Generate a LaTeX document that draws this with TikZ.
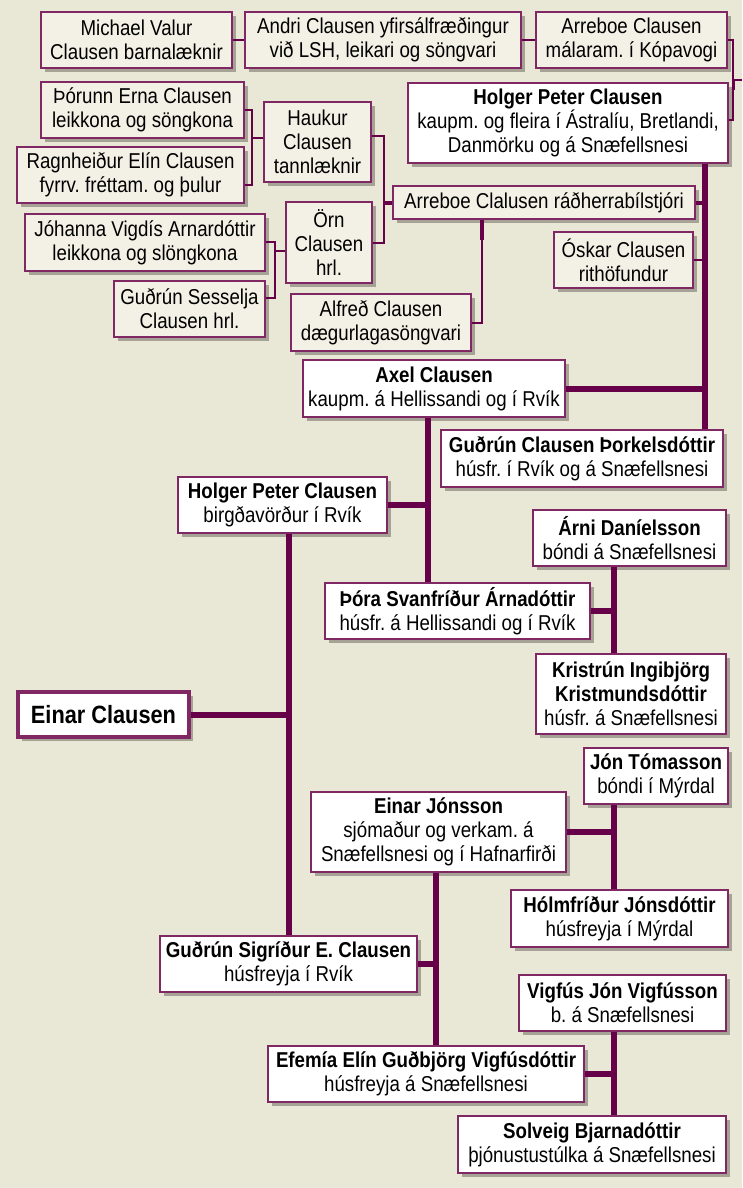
\documentclass[tikz,border=0pt]{standalone}
\usepackage{fontspec}
\setmainfont[FakeStretch=0.87]{Liberation Sans}
\frenchspacing
\usetikzlibrary{shadows}
\definecolor{bgc}{RGB}{233,231,214}
\definecolor{lfill}{RGB}{243,241,230}
\definecolor{bord}{RGB}{128,40,100}
\definecolor{conn}{RGB}{102,0,72}
\definecolor{shd}{RGB}{150,147,135}
\tikzset{
 person/.style={draw=bord, line width=1.6pt, align=center, inner sep=0pt,
   font=\fontsize{21.5}{24}\selectfont,
   drop shadow={shadow xshift=4pt, shadow yshift=-4pt, fill=shd, opacity=0.8}},
 lbox/.style={person, fill=lfill},
 wbox/.style={person, fill=white},
 sz/.style 2 args={minimum width=#1pt, minimum height=#2pt},
 thinc/.style={draw=conn, line width=2pt},
 midc/.style={draw=conn, line width=4pt},
 thickc/.style={draw=conn, line width=6pt},
}
\begin{document}
\begin{tikzpicture}[x=1pt,y=-1pt]
\fill[bgc] (0,0) rectangle (742,1188);
\useasboundingbox (0,0) rectangle (742,1188);

\node[lbox, sz={191}{56}] (michael) at (136.5,40) {Michael Valur\\Clausen barnalæknir};
\node[lbox, sz={276}{56}] (andri) at (383,40) {Andri Clausen yfirsálfræðingur\\við LSH, leikari og söngvari};
\node[lbox, sz={191}{56}] (arrm) at (631.5,40) {Arreboe Clausen\\málaram. í Kópavogi};
\node[wbox, sz={320}{80}] (holgerT) at (568,123) {\textbf{Holger Peter Clausen}\\kaupm. og fleira í Ástralíu, Bretlandi,\\Danmörku og á Snæfellsnesi};
\node[lbox, sz={203}{56}] (thorunn) at (142.5,110) {Þórunn Erna Clausen\\leikkona og söngkona};
\node[lbox, sz={227}{56}] (ragn) at (130.5,175) {Ragnheiður Elín Clausen\\fyrrv. fréttam. og þulur};
\node[lbox, sz={107}{80}] (haukur) at (317.5,142) {Haukur\\Clausen\\tannlæknir};
\node[lbox, sz={302}{33}] (arrr) at (544,202.5) {Arreboe Clalusen ráðherrabílstjóri};
\node[lbox, sz={86}{81}] (orn) at (329,242.5) {Örn\\Clausen\\hrl.};
\node[lbox, sz={240}{57}] (johanna) at (145,242.5) {Jóhanna Vigdís Arnardóttir\\leikkona og slöngkona};
\node[lbox, sz={151}{56}] (gsess) at (189.5,309) {Guðrún Sesselja\\Clausen hrl.};
\node[lbox, sz={139}{56}] (oskar) at (623.5,260) {Óskar Clausen\\rithöfundur};
\node[lbox, sz={180}{57}] (alfred) at (381,322.5) {Alfreð Clausen\\dægurlagasöngvari};
\node[wbox, sz={262}{57}] (axel) at (434,388.5) {\textbf{Axel Clausen}\\kaupm. á Hellissandi og í Rvík};
\node[wbox, sz={282}{57}] (gclaus) at (582,458.5) {\textbf{Guðrún Clausen Þorkelsdóttir}\\húsfr. í Rvík og á Snæfellsnesi};
\node[wbox, sz={209}{56}] (holgerB) at (282.5,505) {\textbf{Holger Peter Clausen}\\birgðavörður í Rvík};
\node[wbox, sz={193}{56}] (arni) at (629.5,538) {\textbf{Árni Daníelsson}\\bóndi á Snæfellsnesi};
\node[wbox, sz={265}{56}] (thora) at (457.5,611) {\textbf{Þóra Svanfríður Árnadóttir}\\húsfr. á Hellissandi og í Rvík};
\node[wbox, sz={190}{80}] (kristrun) at (631,694) {\textbf{Kristrún Ingibjörg}\\\textbf{Kristmundsdóttir}\\húsfr. á Snæfellsnesi};
\node[wbox, sz={171}{45}, line width=4pt, font=\fontsize{25}{28}\selectfont\bfseries] (einar) at (103.5,714.5) {Einar Clausen};
\node[wbox, sz={144}{56}] (jon) at (656,776) {\textbf{Jón Tómasson}\\bóndi í Mýrdal};
\node[wbox, sz={255}{80}] (einarJ) at (438.5,832) {\textbf{Einar Jónsson}\\sjómaður og verkam. á\\Snæfellsnesi og í Hafnarfirði};
\node[wbox, sz={217}{57}] (holm) at (619.5,918.5) {\textbf{Hólmfríður Jónsdóttir}\\húsfreyja í Mýrdal};
\node[wbox, sz={257}{56}] (gsig) at (288.5,964) {\textbf{Guðrún Sigríður E. Clausen}\\húsfreyja í Rvík};
\node[wbox, sz={207}{56}] (vigfus) at (622.5,1003) {\textbf{Vigfús Jón Vigfússon}\\b. á Snæfellsnesi};
\node[wbox, sz={316}{56}] (efemia) at (426,1074) {\textbf{Efemía Elín Guðbjörg Vigfúsdóttir}\\húsfreyja á Snæfellsnesi};
\node[wbox, sz={268}{57}] (solveig) at (592,1144.5) {\textbf{Solveig Bjarnadóttir}\\þjónustustúlka á Snæfellsnesi};

% top row
\coordinate (tb1) at (733,40);
\coordinate (tb2) at (733,120);
\coordinate (tbj) at (733,80);
\coordinate (tbout) at (742,80);
\draw[thinc] (michael.east) -- (andri.west);
\draw[thinc] (andri.east) -- (arrm.west);
\draw[thinc] (arrm.east) -- (tb1) -- (tb2) -- (holgerT.east |- tb2);
\draw[thinc] (tbj) -- (tbout);
\draw[draw=conn, line width=3pt] (tbj) -- ++(0,10);

% left cluster
\coordinate (lb2) at (252,185);
\coordinate (hk) at (252,138);
\draw[thinc] (thorunn.east) -| (lb2) -- (ragn.east |- lb2);
\draw[thinc] (hk) -- (haukur.west |- hk);
\coordinate (hb1) at (384,136);
\coordinate (hb2) at (384,243);
\draw[thinc] (haukur.east |- hb1) -- (hb1) -- (hb2) -- (orn.east |- hb2);
\draw[midc] (hb1 |- arrr.west) -- (arrr.west);
\coordinate (jb1) at (275,242);
\coordinate (jb2) at (275,298);
\coordinate (jo) at (275,251);
\draw[thinc] (johanna.east |- jb1) -- (jb1) -- (jb2) -- (gsess.east |- jb2);
\draw[thinc] (jo) -- (orn.west |- jo);
\coordinate (ab1) at (482,240);
\coordinate (ab2) at (482,322.5);
\draw[midc] (arrr.south -| ab1) -- (ab1);
\draw[thinc] (ab1) -- (ab2) -- (alfred.east);

% right bus
\coordinate (rb) at (705,300);
\draw[thickc] (holgerT.south -| rb) -- (gclaus.north -| rb);
\draw[midc] (arrr.east) -- (arrr.east -| rb);
\draw[draw=conn, line width=2.5pt] (oskar.east) -- (oskar.east -| rb);
\draw[thickc] (axel.east) -- (axel.east -| rb);

% Axel
\coordinate (axb) at (428,500);
\draw[thickc] (axel.south -| axb) -- (thora.north -| axb);
\draw[thickc] (holgerB.east) -- (holgerB.east -| axb);

% Holger B
\coordinate (hbb) at (289,700);
\draw[thickc] (holgerB.south -| hbb) -- (gsig.north -| hbb);
\draw[thickc] (einar.east) -- (einar.east -| hbb);

% right column
\coordinate (arb) at (614,600);
\draw[thickc] (arni.south -| arb) -- (kristrun.north -| arb);
\draw[thickc] (thora.east) -- (thora.east -| arb);
\draw[thickc] (jon.south -| arb) -- (holm.north -| arb);
\draw[thickc] (einarJ.east) -- (einarJ.east -| arb);
\draw[thickc] (vigfus.south -| arb) -- (solveig.north -| arb);
\draw[thickc] (efemia.east) -- (efemia.east -| arb);

% Einar J
\coordinate (ejb) at (436,900);
\draw[thickc] (einarJ.south -| ejb) -- (efemia.north -| ejb);
\draw[thickc] (gsig.east) -- (gsig.east -| ejb);
\end{tikzpicture}
\end{document}
